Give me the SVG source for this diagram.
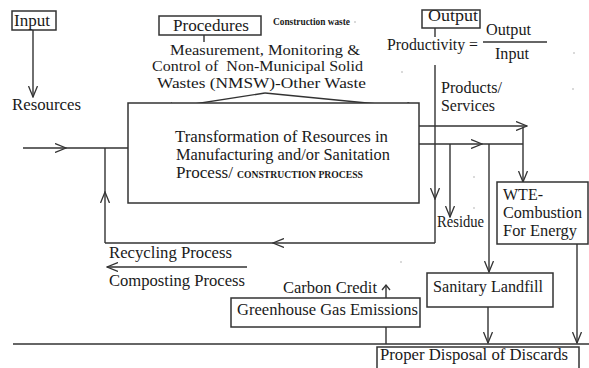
<svg xmlns="http://www.w3.org/2000/svg" width="589" height="368" viewBox="0 0 589 368">
<style>
text{font-family:"Liberation Serif","Times New Roman","DejaVu Serif",serif;font-size:16.5px;fill:#1a1a1a}
.b{font-weight:bold;font-size:10px}
.m{font-size:15px}
.bx{fill:#fff;stroke:#333;stroke-width:1.5}
.ln{fill:none;stroke:#333;stroke-width:1.4}
.ah{fill:none;stroke:#333;stroke-width:1.3}
.dot{fill:#aaa}
</style>
<defs>
<marker id="oa" viewBox="0 0 12 10" refX="11" refY="5" markerWidth="12" markerHeight="10" markerUnits="userSpaceOnUse" orient="auto">
<path d="M0,0.5 L11,5 L0,9.5" fill="none" stroke="#333" stroke-width="1.3"/>
</marker>
</defs>
<rect width="589" height="368" fill="#fff"/>
<g id="connectors">
<path class="ln" d="M33,30 V97" marker-end="url(#oa)"/>
<path class="ln" d="M23,148 H66" marker-end="url(#oa)"/>
<path class="ln" d="M66,148 H128"/>
<path class="ln" d="M105,243 V192" marker-end="url(#oa)"/>
<path class="ln" d="M105,192 V148"/>
<path class="ln" d="M435,243 H273" marker-end="url(#oa)"/>
<path class="ln" d="M273,243 H105"/>
<path class="ln" d="M435,65 V199" marker-end="url(#oa)"/>
<path class="ln" d="M435,199 V243"/>
<path class="ln" d="M435,28 V37"/>
<path class="ln" d="M204,35 V42"/>
<path class="ln" d="M265,93 L162,109" marker-end="url(#oa)"/>
<path class="ln" d="M265,93 L418,108" marker-end="url(#oa)"/>
<path class="ln" d="M419,126 H527" marker-end="url(#oa)"/>
<path class="ln" d="M523,127 V182" marker-end="url(#oa)"/>
<path class="ln" d="M419,144 H482" marker-end="url(#oa)"/>
<path class="ln" d="M482,144 H523"/>
<path class="ln" d="M450,144 V217" marker-end="url(#oa)"/>
<path class="ln" d="M489,144 V272" marker-end="url(#oa)"/>
<path class="ln" d="M488,307 V343" marker-end="url(#oa)"/>
<path class="ln" d="M577,244 V343" marker-end="url(#oa)"/>
<path class="ln" d="M386,327 V344"/>
<path class="ln" d="M386,298 V285"/>
<path class="ah" d="M382,290 L386,285 L390,290"/>
<path class="ln" d="M13,344 H589"/>
<path class="ln" d="M247,267 H107" marker-end="url(#oa)"/>
</g>
<g id="input">
<rect class="bx" x="12" y="11" width="44" height="19"/>
<text x="14" y="26" textLength="36" lengthAdjust="spacingAndGlyphs">Input</text>
</g>
<g id="resources"><text x="12" y="110" textLength="69" lengthAdjust="spacingAndGlyphs">Resources</text></g>
<g id="procedures">
<rect class="bx" x="159" y="16" width="102" height="19"/>
<text x="173" y="31" textLength="76" lengthAdjust="spacingAndGlyphs">Procedures</text>
<text class="b" x="273" y="25" textLength="77" lengthAdjust="spacingAndGlyphs">Construction waste</text>
</g>
<g id="nmsw">
<text class="m" x="170" y="54.5" textLength="190" lengthAdjust="spacingAndGlyphs">Measurement, Monitoring &amp;</text>
<text class="m" x="152" y="71" xml:space="preserve" textLength="211" lengthAdjust="spacingAndGlyphs">Control of  Non-Municipal Solid</text>
<text class="m" x="157" y="87.5" textLength="209" lengthAdjust="spacingAndGlyphs">Wastes (NMSW)-Other Waste</text>
</g>
<g id="output">
<rect class="bx" x="422" y="10" width="58" height="18"/>
<text x="428" y="21" textLength="50" lengthAdjust="spacingAndGlyphs">Output</text>
</g>
<g id="productivity">
<text x="387" y="50" textLength="91" lengthAdjust="spacingAndGlyphs">Productivity =</text>
<text x="486" y="35" textLength="45" lengthAdjust="spacingAndGlyphs">Output</text>
<path class="ln" d="M483,42 H547"/>
<text x="495" y="59" textLength="34" lengthAdjust="spacingAndGlyphs">Input</text>
</g>
<g id="products"><text x="441" y="93" textLength="61" lengthAdjust="spacingAndGlyphs">Products/</text><text x="441" y="111" textLength="54" lengthAdjust="spacingAndGlyphs">Services</text></g>
<g id="transformation">
<rect class="bx" x="128" y="103" width="291" height="100" fill="none"/>
<text x="175" y="142" textLength="213" lengthAdjust="spacingAndGlyphs">Transformation of Resources in</text>
<text x="176" y="160" textLength="214" lengthAdjust="spacingAndGlyphs">Manufacturing and/or Sanitation</text>
<text x="176" y="178" textLength="57" lengthAdjust="spacingAndGlyphs">Process/</text>
<text class="b" x="237" y="178" textLength="126" lengthAdjust="spacingAndGlyphs">CONSTRUCTION PROCESS</text>
</g>
<g id="residue"><text x="437" y="227" textLength="47" lengthAdjust="spacingAndGlyphs">Residue</text></g>
<g id="wte">
<rect class="bx" x="497" y="182" width="91" height="62"/>
<text x="503" y="200" textLength="40" lengthAdjust="spacingAndGlyphs">WTE-</text>
<text x="503" y="218" textLength="79" lengthAdjust="spacingAndGlyphs">Combustion</text>
<text x="503" y="236" textLength="74" lengthAdjust="spacingAndGlyphs">For Energy</text>
</g>
<g id="recycling"><text x="109" y="258" textLength="123" lengthAdjust="spacingAndGlyphs">Recycling Process</text></g>
<g id="composting"><text x="109" y="286" textLength="136" lengthAdjust="spacingAndGlyphs">Composting Process</text></g>
<g id="landfill">
<rect class="bx" x="427" y="273" width="126" height="34"/>
<text x="433" y="292" textLength="110" lengthAdjust="spacingAndGlyphs">Sanitary Landfill</text>
</g>
<g id="carbon"><text x="283" y="293" textLength="94" lengthAdjust="spacingAndGlyphs">Carbon Credit</text></g>
<g id="ghg">
<rect class="bx" x="231" y="298" width="189" height="29"/>
<text x="237" y="315" textLength="181" lengthAdjust="spacingAndGlyphs">Greenhouse Gas Emissions</text>
</g>
<g id="disposal">
<rect class="bx" x="377" y="347" width="202" height="26"/>
<text x="380" y="360" textLength="188" lengthAdjust="spacingAndGlyphs">Proper Disposal of Discards</text>
</g>
<g id="specks">
<circle class="dot" cx="355" cy="22" r="0.8"/>
<circle class="dot" cx="574" cy="53" r="0.8"/>
<circle class="dot" cx="402" cy="72" r="0.8"/>
<circle class="dot" cx="573" cy="89" r="0.8"/>
<circle class="dot" cx="474" cy="177" r="0.8"/>
<circle class="dot" cx="474" cy="208" r="0.8"/>
<circle class="dot" cx="401" cy="262" r="0.8"/>
</g>
</svg>
